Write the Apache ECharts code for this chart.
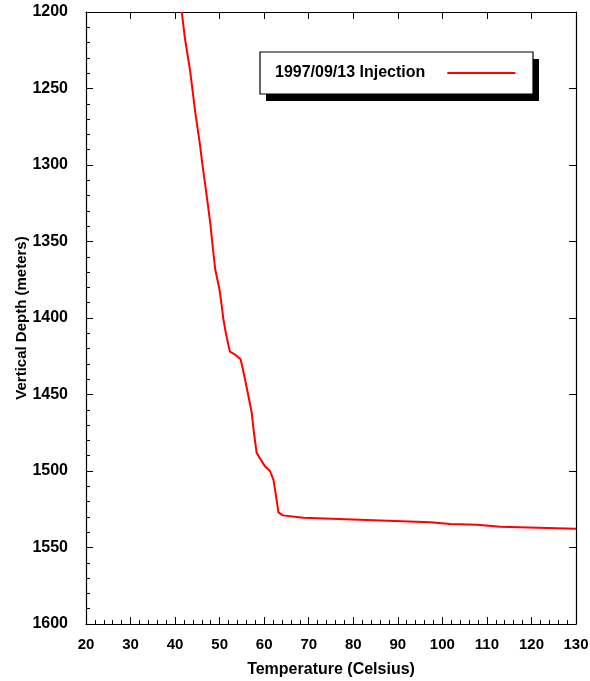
<!DOCTYPE html>
<html>
<head>
<meta charset="utf-8">
<script src="https://cdn.jsdelivr.net/npm/echarts@6/dist/echarts.min.js"></script>
<style>
  html, body { margin: 0; padding: 0; background: #fff; }
  #chart { width: 590px; height: 681px; }
</style>
</head>
<body>
<div id="chart"></div>
<script>
// Temperature profile with depth, injection survey
const seriesName = '1997/09/13 Injection';
const temperature = [41.5, 42.2, 43.4, 44.5, 45.6, 46.1, 47.0, 47.9, 48.5, 49.0, 50.0, 50.6, 50.8, 51.4, 52.3, 53.5, 54.7, 55.1, 55.7, 56.8, 57.2, 57.7, 58.3, 59.1, 60.2, 61.3, 62.1, 62.8, 63.2, 64.2, 68.8, 83.0, 97.3, 101.8, 107.8, 113.0, 130.0];
const depth = [1200, 1217, 1239, 1265, 1287, 1299, 1318, 1338, 1355, 1368, 1382, 1395, 1400, 1410, 1422, 1424, 1427, 1432, 1440, 1456, 1462, 1475, 1488, 1492, 1497, 1500, 1506, 1519, 1527, 1529, 1530.5, 1532, 1533.5, 1534.6, 1535.1, 1536.4, 1537.7];
const xTicks = { min: 20, max: 130, step: 10 };
const yTicks = { min: 1200, max: 1600, step: 50 };

const font = 'Liberation Sans, Arial, Helvetica, sans-serif';
const points = temperature.map((t, i) => [t, depth[i]]);

const chart = echarts.init(document.getElementById('chart'));

const axisLine = { show: true, lineStyle: { color: '#000', width: 1.2 } };
const majorTick = { show: true, inside: true, length: 7, lineStyle: { color: '#000', width: 1 } };
const minorTick = { show: true, splitNumber: 5, length: 4, lineStyle: { color: '#000', width: 1 } };

// legend frame with a solid drop shadow
const legendBox = { x: 260, y: 52, w: 273, h: 42, shadow: 6 };

chart.setOption({
  animation: false,
  backgroundColor: '#fff',
  grid: { left: 86, right: 14, top: 12, bottom: 57, outerBoundsMode: 'none' },
  graphic: [
    {
      type: 'rect', z: 0,
      shape: { x: legendBox.x + legendBox.shadow, y: legendBox.y + legendBox.shadow + 1, width: legendBox.w, height: legendBox.h },
      style: { fill: '#000' }
    },
    {
      type: 'rect', z: 1,
      shape: { x: legendBox.x, y: legendBox.y, width: legendBox.w, height: legendBox.h },
      style: { fill: '#fff', stroke: '#000', lineWidth: 1.2 }
    }
  ],
  legend: {
    data: [{ name: seriesName, icon: 'rect' }],
    left: legendBox.x,
    top: legendBox.y,
    orient: 'horizontal',
    align: 'right',
    itemWidth: 68,
    itemHeight: 2,
    padding: [13, 18, 10, 15],
    z: 5,
    textStyle: {
      fontFamily: font, fontWeight: 'bold', fontSize: 16, color: '#000',
      padding: [0, 17, 0, 0]
    }
  },
  xAxis: [
    {
      type: 'value', position: 'bottom',
      min: xTicks.min, max: xTicks.max, interval: xTicks.step,
      name: 'Temperature (Celsius)', nameLocation: 'middle', nameGap: 38, nameMoveOverlap: false,
      nameTextStyle: { fontFamily: font, fontWeight: 'bold', fontSize: 16, color: '#000' },
      axisLine, axisTick: majorTick, minorTick,
      splitLine: { show: false },
      axisLabel: { fontFamily: font, fontWeight: 'bold', fontSize: 15, color: '#000', margin: 13 }
    },
    {
      type: 'value', position: 'top',
      min: xTicks.min, max: xTicks.max, interval: xTicks.step,
      axisLine, axisTick: majorTick,
      splitLine: { show: false },
      axisLabel: { show: false }
    }
  ],
  yAxis: [
    {
      type: 'value', position: 'left', inverse: true,
      min: yTicks.min, max: yTicks.max, interval: yTicks.step,
      name: 'Vertical Depth (meters)', nameLocation: 'middle', nameGap: 57, nameRotate: 90, nameMoveOverlap: false,
      nameTextStyle: { fontFamily: font, fontWeight: 'bold', fontSize: 15, color: '#000' },
      axisLine, axisTick: majorTick, minorTick,
      splitLine: { show: false },
      axisLabel: {
        fontFamily: font, fontWeight: 'bold', fontSize: 16, color: '#000', margin: 18, padding: [8, 0, 0, 0],
        formatter: (v) => String(v)
      }
    },
    {
      type: 'value', position: 'right', inverse: true,
      min: yTicks.min, max: yTicks.max, interval: yTicks.step,
      axisLine, axisTick: majorTick,
      splitLine: { show: false },
      axisLabel: { show: false }
    }
  ],
  series: [
    {
      name: seriesName,
      type: 'line',
      xAxisIndex: 0,
      yAxisIndex: 0,
      data: points,
      symbol: 'none',
      smooth: false,
      clip: true,
      lineStyle: { color: '#ff0000', width: 2 },
      itemStyle: { color: '#ff0000' }
    }
  ]
});
</script>
</body>
</html>
